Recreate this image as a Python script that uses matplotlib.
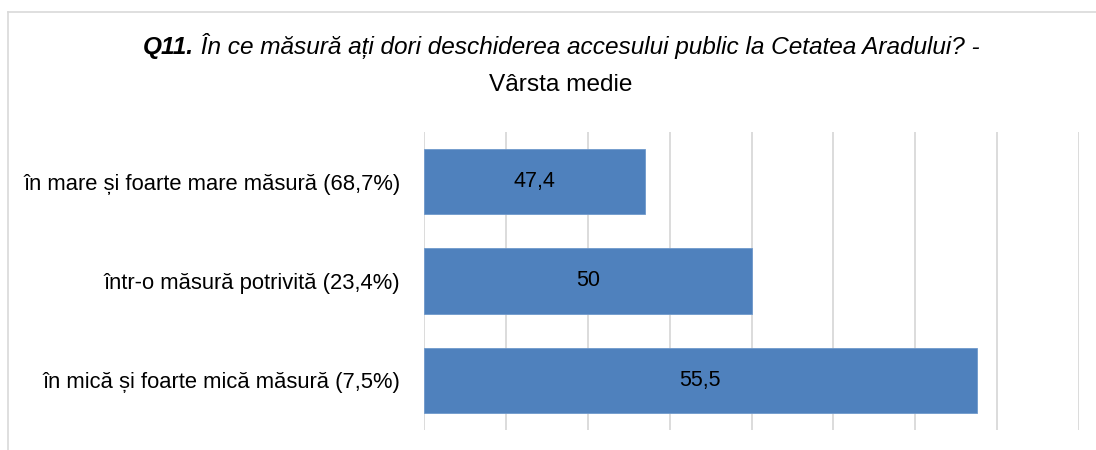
import numpy as np
import matplotlib
matplotlib.use("Agg")
import matplotlib.pyplot as plt
from matplotlib.lines import Line2D

# Data
categories = ["în mare și foarte mare măsură (68,7%)",
              "într-o măsură potrivită (23,4%)",
              "în mică și foarte mică măsură (7,5%)"]
values = [47.4, 50.0, 55.5]
value_labels = ["47,4", "50", "55,5"]
x_min, x_max, x_step = 42, 58, 2

title_bold = "Q11."
title_rest = " În ce măsură ați dori deschiderea accesului public la Cetatea Aradului? -"
title_line2 = "Vârsta medie"

bar_colour = "#4F81BD"
grid_colour = "#D9D9D9"
font = "Liberation Sans"

W, H = 1096, 450
fig = plt.figure(figsize=(W / 100, H / 100), dpi=100)

# Plot area position in pixels
left, right, top, bottom = 424, 1079, 132, 430
ax = fig.add_axes([left / W, 1 - bottom / H, (right - left) / W, (bottom - top) / H])

y_pos = np.arange(len(categories))
ax.barh(y_pos, [v - x_min for v in values], left=x_min, height=0.655,
        color=bar_colour, edgecolor="#6F99CC", linewidth=0.6, zorder=3)

for y, v, lab in zip(y_pos, values, value_labels):
    ax.text((x_min + v) / 2, y, lab, ha="center", va="center", fontsize=15.5,
            family=font, color="black", zorder=4)

ax.set_xlim(x_min, x_max)
ax.set_ylim(len(categories) - 0.5, -0.5)
ax.set_xticks(np.arange(x_min, x_max + 0.1, x_step))
ax.set_xticklabels([])
ax.set_yticks(y_pos)
ax.set_yticklabels(categories, fontsize=15.8, family=font, color="black")
ax.tick_params(axis="both", length=0)
ax.tick_params(axis="y", pad=17)
ax.grid(axis="x", color=grid_colour, linewidth=1.3, zorder=0)
for s in ax.spines.values():
    s.set_visible(False)

# Chart border
fig.add_artist(Line2D([8 / W, 1], [1 - 12 / H, 1 - 12 / H], color=grid_colour, linewidth=1.2))
fig.add_artist(Line2D([8 / W, 8 / W], [0, 1 - 12 / H], color=grid_colour, linewidth=1.2))

# Title: bold italic prefix + italic rest, centred as one line
title_size = 17.6
cx = 561 / W
y1 = 1 - 54 / H
y2 = 1 - 91 / H
t1 = fig.text(0, y1, title_bold, fontsize=title_size, family=font, style="italic",
              weight="bold", va="baseline", ha="left")
t2 = fig.text(0, y1, title_rest, fontsize=title_size, family=font, style="italic",
              va="baseline", ha="left")
fig.canvas.draw()
renderer = fig.canvas.get_renderer()
w1 = t1.get_window_extent(renderer).width / W
w2 = t2.get_window_extent(renderer).width / W
x0 = cx - (w1 + w2) / 2
t1.set_x(x0)
t2.set_x(x0 + w1)
fig.text(cx, y2, title_line2, fontsize=title_size, family=font, va="baseline", ha="center")

plt.savefig("out.png", dpi=100)
